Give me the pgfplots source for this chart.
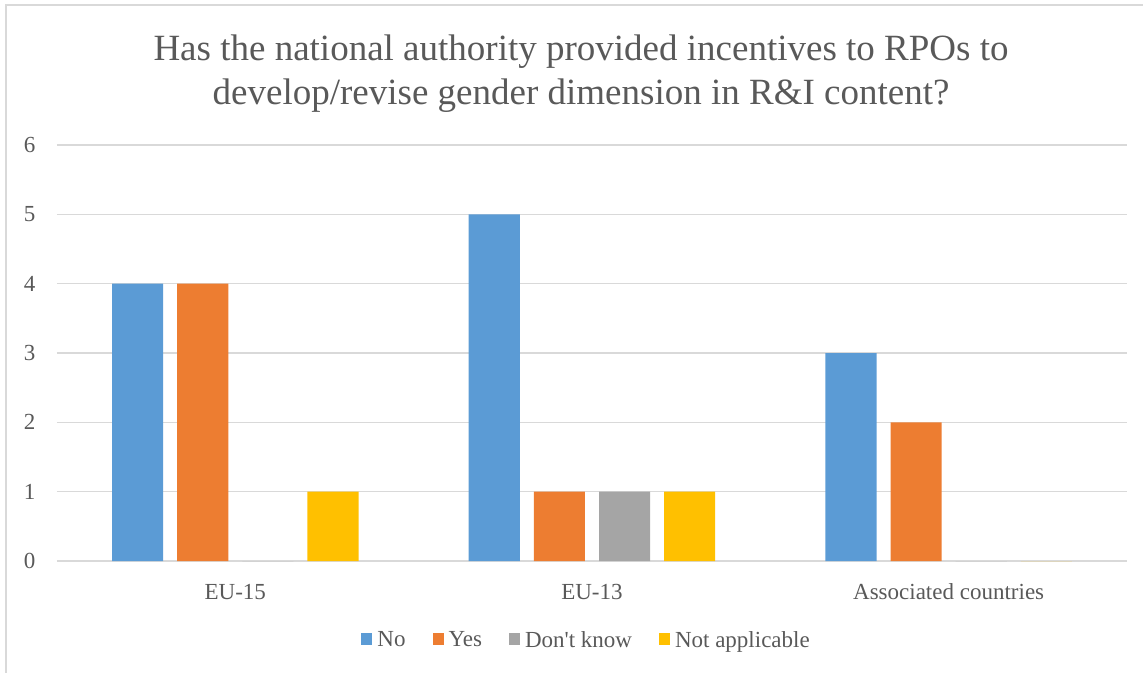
\documentclass[border=0pt]{standalone}
\usepackage{pgfplots}
\pgfplotsset{compat=1.18}
\usepackage{fontspec}
\setmainfont{Liberation Serif}

\definecolor{cNo}{HTML}{5B9BD5}
\definecolor{cYes}{HTML}{ED7D31}
\definecolor{cDK}{HTML}{A5A5A5}
\definecolor{cNA}{HTML}{FFC000}
\definecolor{txt}{HTML}{595959}
\definecolor{gridc}{HTML}{D9D9D9}

\begin{document}
\begin{tikzpicture}
% page = 1143 x 672 (1px = 1pt), origin at lower left of the plot area
\path[use as bounding box] (-57pt,-111pt) rectangle (1086pt,561pt);
\draw[gridc, line width=1.5pt] (-51pt,-130pt) -- (-51pt,556pt) -- (1100pt,556pt);

\begin{axis}[
    at={(0pt,0pt)}, anchor=south west,
    scale only axis,
    width=1070pt, height=416pt,
    xmin=-0.5, xmax=2.5,
    ymin=0, ymax=6,
    xtick={0,1,2},
    xticklabels={EU-15, EU-13, Associated countries},
    ytick={0,1,2,3,4,5,6},
    major tick length=0pt,
    axis line style={draw=none},
    ymajorgrids=true,
    grid style={gridc, line width=1.3pt},
    ybar,
    bar width=0.1433,
    ticklabel style={font=\fontsize{23}{27}\selectfont, text=txt},
    /pgf/number format/assume math mode=true,
    yticklabel style={anchor=east, xshift=-18pt},
    xticklabel style={anchor=base, yshift=-38pt},
    legend style={
        at={(0.495,0)}, anchor=north, yshift=-68pt,
        draw=none, fill=none,
        font=\fontsize{23}{27}\selectfont, text=txt,
        legend columns=-1,
        /tikz/every odd column/.append style={column sep=3pt},
        /tikz/every even column/.append style={column sep=25pt},
        inner sep=0pt,
    },
    legend image code/.code={\fill[#1] (0pt,-5pt) rectangle (11pt,7pt);},
]

\addplot[fill=cNo, draw=none, bar shift=-0.2739] coordinates {(0,4) (1,5) (2,3)};
\addplot[fill=cYes, draw=none, bar shift=-0.0913] coordinates {(0,4) (1,1) (2,2)};
\addplot[fill=cDK, draw=none, bar shift=0.0913] coordinates {(0,0) (1,1) (2,0)};
\addplot[fill=cNA, draw=none, bar shift=0.2739] coordinates {(0,1) (1,1) (2,0)};

\legend{No, Yes, Don\textquotesingle t know, Not applicable}
\end{axis}

\node[anchor=base, text=txt, font=\fontsize{37}{44}\selectfont, inner sep=0pt]
    at (524pt,500pt) {Has the national authority provided incentives to RPOs to};
\node[anchor=base, text=txt, font=\fontsize{37}{44}\selectfont, inner sep=0pt]
    at (524pt,456pt) {develop/revise gender dimension in R\&I content?};
\end{tikzpicture}
\end{document}
